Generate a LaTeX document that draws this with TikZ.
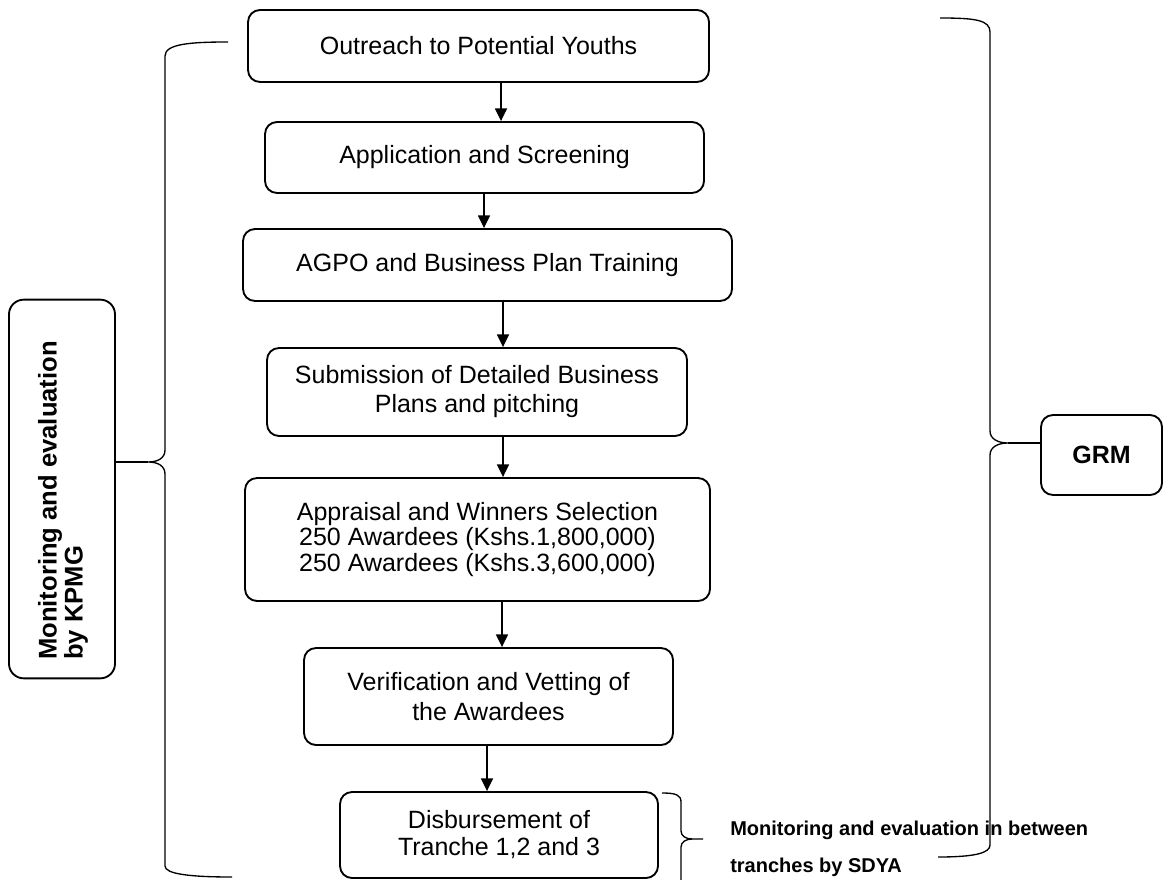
\documentclass[tikz,border=0pt]{standalone}
\usepackage{fontspec}
\setmainfont{Liberation Sans}
\usetikzlibrary{arrows.meta}
\begin{document}
\begin{tikzpicture}[x=0.75pt,y=-0.75pt,
  stepbox/.style={draw, line width=1.4pt, rounded corners=9pt, align=center, inner sep=0pt, font=\fontsize{18.75}{21.5}\selectfont},
  arr/.style={line width=1pt, -{Triangle[length=9.5pt,width=9pt]}},
  brace/.style={line width=1pt}]
\useasboundingbox (0,0) rectangle (1163,880);
\fill[white] (0,0) rectangle (1163,880);
% flow boxes
\node[stepbox, minimum width=345.75pt, minimum height=54pt] (n1) at (478.5,46) {Outreach to Potential Youths};
\node[stepbox, minimum width=329.25pt, minimum height=53.25pt] (n2) at (484.5,157.5) {Application and Screening};
\node[stepbox, minimum width=366.75pt, minimum height=54pt] (n3) at (487.5,265) {AGPO and Business Plan Training};
\node[stepbox, minimum width=315pt, minimum height=66pt, font=\fontsize{18.75}{21.75}\selectfont] (n4) at (477,392) {Submission of Detailed Business\\Plans and pitching};
\node[stepbox, minimum width=348.75pt, minimum height=92.25pt, font=\fontsize{18.75}{19.2}\selectfont] (n5) at (477.5,539.5) {Appraisal and Winners Selection\\250 Awardees (Kshs.1,800,000)\\250 Awardees (Kshs.3,600,000)};
\node[stepbox, minimum width=276.75pt, minimum height=72.75pt, font=\fontsize{18.75}{22.5}\selectfont] (n6) at (488.5,696.5) {Verification and Vetting of\\the Awardees};
\node[stepbox, minimum width=238.5pt, minimum height=64.5pt, font=\fontsize{18.75}{20.25}\selectfont] (n7) at (499,835) {Disbursement of\\Tranche 1,2 and 3};
% side boxes
\node[stepbox, rounded corners=11pt, minimum width=79.5pt, minimum height=284pt] (kpmg) at (62,489) {};
\node[rotate=90, anchor=west, align=left, inner sep=0pt, font=\bfseries\fontsize{19.2}{19.5}\selectfont] (kpmgt) at (63,660) {Monitoring and evaluation\\by KPMG};
\node[stepbox, minimum width=90.75pt, minimum height=60pt, font=\bfseries\fontsize{18.75}{21}\selectfont] (grm) at (1101.5,455) {GRM};
% arrows
\coordinate (a1) at (501,0);
\coordinate (a2) at (484,0);
\coordinate (a3) at (503,0);
\coordinate (a4) at (503,0);
\coordinate (a5) at (502,0);
\coordinate (a6) at (487,0);
\draw[arr] (n1.south -| a1) -- (n2.north -| a1);
\draw[arr] (n2.south -| a2) -- (n3.north -| a2);
\draw[arr] (n3.south -| a3) -- (n4.north -| a3);
\draw[arr] (n4.south -| a4) -- (n5.north -| a4);
\draw[arr] (n5.south -| a5) -- (n6.north -| a5);
\draw[arr] (n6.south -| a6) -- (n7.north -| a6);
% left brace
\coordinate (ltip) at (148,462);
\draw[brace] (228,42) .. controls (190,42) and (165,44) .. (165,56) -- (165,450) .. controls (165,458) and (158,462) .. (ltip) .. controls (158,462) and (165,466) .. (165,474) -- (165,866) .. controls (165,874) and (190,877) .. (232,877);
\draw[brace] (kpmg.east |- ltip) -- (ltip);
% right brace
\coordinate (rtip) at (1008,443);
\draw[brace] (940,18) .. controls (975,18) and (990,20) .. (990,32) -- (990,431) .. controls (990,439) and (998,443) .. (rtip) .. controls (998,443) and (990,447) .. (990,455) -- (990,845) .. controls (990,853) and (975,857) .. (938,857);
\draw[brace] (rtip) -- (rtip -| grm.west);
% small brace
\coordinate (stip) at (703,839);
\draw[brace] (662,793) .. controls (676,793) and (681,795) .. (681,802) -- (681,831) .. controls (681,836) and (686,839) .. (692,839) -- (stip);
\draw[brace] (692,839) .. controls (686,839) and (681,842) .. (681,847) -- (681,880);
% note
\node[anchor=west, align=left, inner sep=0pt, font=\bfseries\fontsize{15}{27.75}\selectfont] (sdya) at (730,848.5) {Monitoring and evaluation in between\\tranches by SDYA};
\end{tikzpicture}
\end{document}
